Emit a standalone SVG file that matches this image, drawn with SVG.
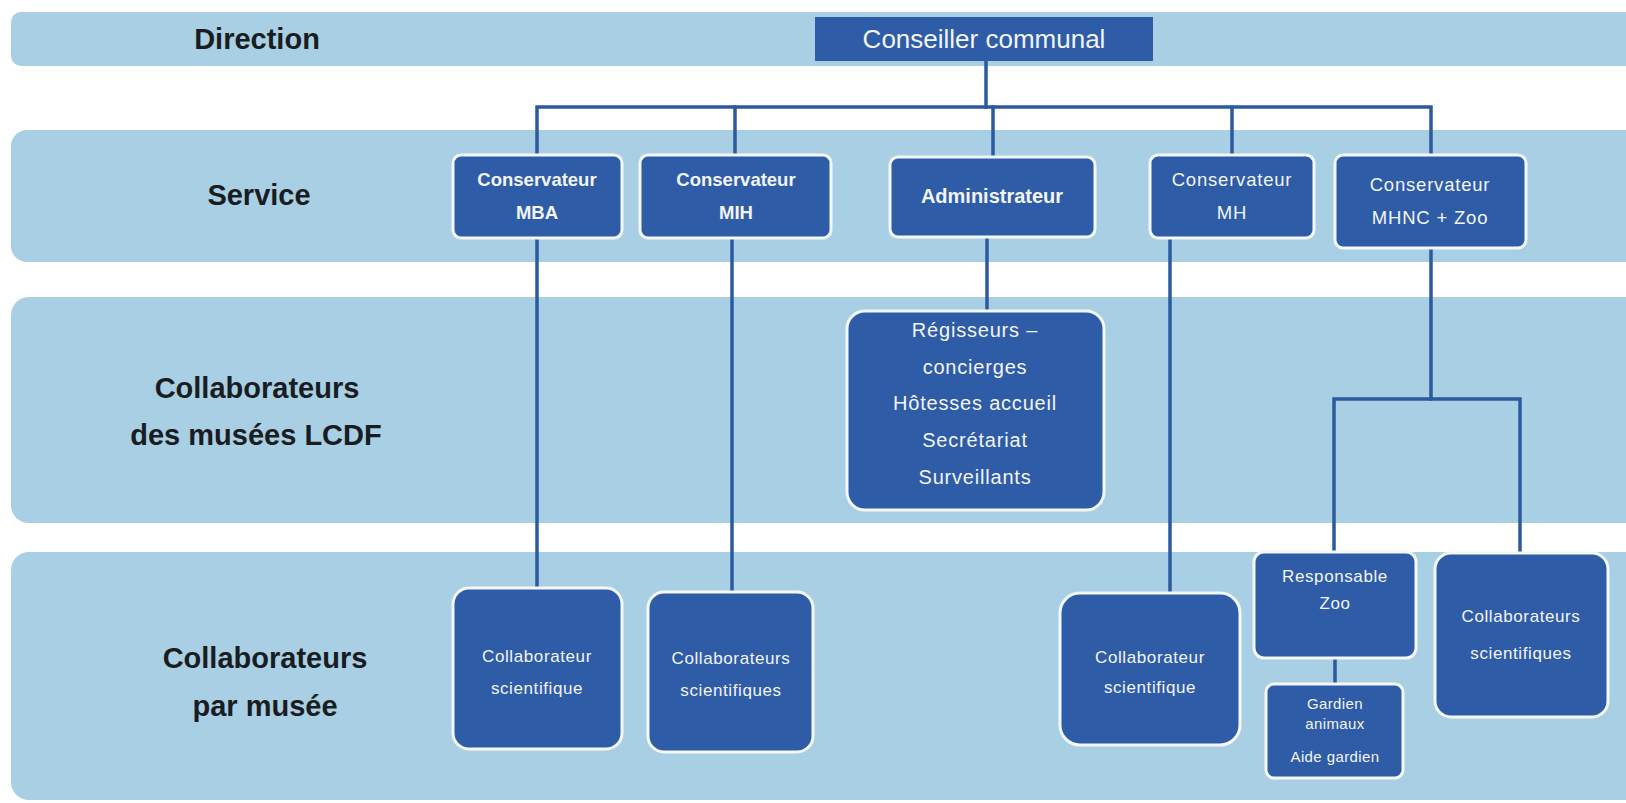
<svg xmlns="http://www.w3.org/2000/svg" width="1626" height="803" viewBox="0 0 1626 803">
<style>
.bg{fill:#ffffff}
.band{fill:#a8cfe3}
.hdr{font-family:"Liberation Sans",Arial,sans-serif;font-weight:700;font-size:29px;fill:#191d22;text-anchor:middle}
.node{fill:#2f5ca7;stroke:#f4f8fb;stroke-width:3}
.top{fill:#2f5ca7}
.t{font-family:"Liberation Sans",Arial,sans-serif;fill:#f2f5fa;text-anchor:middle}
.tb{font-weight:700;font-size:18.5px}
.tr{font-size:18.5px;letter-spacing:0.8px}
.ts{font-size:17px;letter-spacing:0.6px}
.tx{font-size:15px;letter-spacing:0.4px}
.conn{fill:none;stroke:#2c5a9e;stroke-width:3.5;stroke-linecap:square}
</style>
<rect class="bg" x="0" y="0" width="1626" height="803"/>
<g id="bands">
<rect class="band" x="11" y="12" width="1640" height="54" rx="10"/>
<rect class="band" x="11" y="130" width="1640" height="132" rx="16"/>
<rect class="band" x="11" y="297" width="1640" height="226" rx="18"/>
<rect class="band" x="11" y="552" width="1640" height="248" rx="18"/>
</g>
<g id="headers">
<text class="hdr" x="257" y="49">Direction</text>
<text class="hdr" x="259" y="205">Service</text>
<text class="hdr" x="257" y="398">Collaborateurs</text>
<text class="hdr" x="256" y="445">des musées LCDF</text>
<text class="hdr" x="265" y="668">Collaborateurs</text>
<text class="hdr" x="265" y="716">par musée</text>
</g>
<g id="connectors">
<path class="conn" d="M986 61V107"/>
<path class="conn" d="M537 155V107H1431V155"/>
<path class="conn" d="M735 107V155"/>
<path class="conn" d="M993 107V157"/>
<path class="conn" d="M1232 107V155"/>
<path class="conn" d="M537 238V588"/>
<path class="conn" d="M732 238V592"/>
<path class="conn" d="M987 237V311"/>
<path class="conn" d="M1170 238V593"/>
<path class="conn" d="M1431 248V399"/>
<path class="conn" d="M1334 552V399H1520V553"/>
<path class="conn" d="M1335 658V684"/>
</g>
<g id="n-conseiller">
<rect class="top" x="815" y="17" width="338" height="44"/>
<text class="t" x="984" y="48" style="font-size:26px">Conseiller communal</text>
</g>
<g id="n-mba">
<rect class="node" x="453" y="155" width="169" height="83" rx="8"/>
<text class="t tb" x="537" y="186">Conservateur</text>
<text class="t tb" x="537" y="219">MBA</text>
</g>
<g id="n-mih">
<rect class="node" x="640" y="155" width="191" height="83" rx="8"/>
<text class="t tb" x="736" y="186">Conservateur</text>
<text class="t tb" x="736" y="219">MIH</text>
</g>
<g id="n-admin">
<rect class="node" x="890" y="157" width="205" height="80" rx="8"/>
<text class="t tb" x="992" y="203" style="font-size:20px">Administrateur</text>
</g>
<g id="n-mh">
<rect class="node" x="1150" y="155" width="164" height="83" rx="8"/>
<text class="t tr" x="1232" y="186">Conservateur</text>
<text class="t tr" x="1232" y="219">MH</text>
</g>
<g id="n-mhnc">
<rect class="node" x="1335" y="155" width="191" height="93" rx="8"/>
<text class="t tr" x="1430" y="191">Conservateur</text>
<text class="t tr" x="1430" y="224">MHNC + Zoo</text>
</g>
<g id="n-regisseurs">
<rect class="node" x="847" y="311" width="257" height="199" rx="18"/>
<text class="t tr" x="975" y="337" style="font-size:20px">Régisseurs –</text>
<text class="t tr" x="975" y="374" style="font-size:20px">concierges</text>
<text class="t tr" x="975" y="410" style="font-size:20px">Hôtesses accueil</text>
<text class="t tr" x="975" y="447" style="font-size:20px">Secrétariat</text>
<text class="t tr" x="975" y="484" style="font-size:20px">Surveillants</text>
</g>
<g id="n-collab-mba">
<rect class="node" x="453" y="588" width="169" height="161" rx="16"/>
<text class="t ts" x="537" y="662">Collaborateur</text>
<text class="t ts" x="537" y="694">scientifique</text>
</g>
<g id="n-collab-mih">
<rect class="node" x="648" y="592" width="165" height="160" rx="16"/>
<text class="t ts" x="731" y="664">Collaborateurs</text>
<text class="t ts" x="731" y="696">scientifiques</text>
</g>
<g id="n-collab-mh">
<rect class="node" x="1060" y="593" width="180" height="152" rx="20"/>
<text class="t ts" x="1150" y="663">Collaborateur</text>
<text class="t ts" x="1150" y="693">scientifique</text>
</g>
<g id="n-resp-zoo">
<rect class="node" x="1254" y="552" width="162" height="106" rx="10"/>
<text class="t ts" x="1335" y="582">Responsable</text>
<text class="t ts" x="1335" y="609">Zoo</text>
</g>
<g id="n-gardien">
<rect class="node" x="1266" y="684" width="137" height="94" rx="8"/>
<text class="t tx" x="1335" y="709">Gardien</text>
<text class="t tx" x="1335" y="729">animaux</text>
<text class="t tx" x="1335" y="762">Aide gardien</text>
</g>
<g id="n-collab-zoo">
<rect class="node" x="1435" y="553" width="173" height="164" rx="16"/>
<text class="t ts" x="1521" y="622">Collaborateurs</text>
<text class="t ts" x="1521" y="659">scientifiques</text>
</g>
</svg>
